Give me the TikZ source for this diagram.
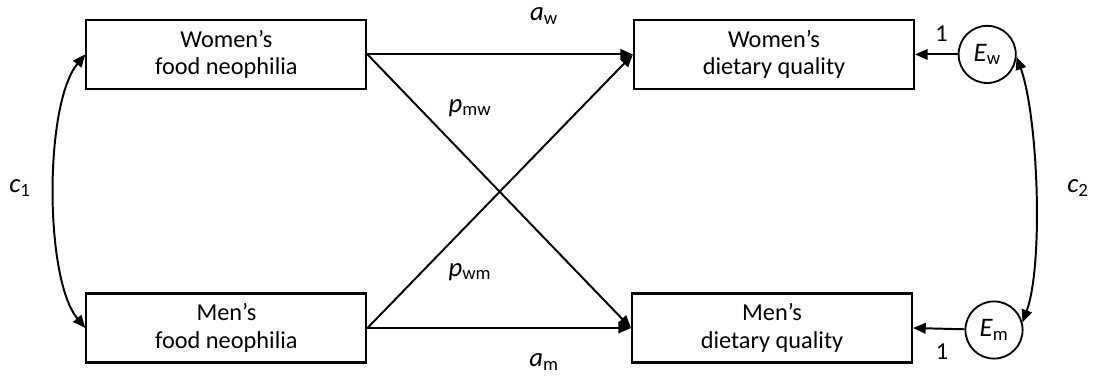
\documentclass[tikz,border=0pt]{standalone}
\usepackage{fontspec}
\setmainfont{Carlito}
\usepackage{tikz}
\usetikzlibrary{arrows.meta, positioning}

\tikzset{
    box/.style={draw, line width=1.5pt, minimum width=7cm, minimum height=1.725cm, inner sep=0pt, align=center},
    err/.style={draw, circle, line width=1.3pt, minimum size=1.43cm, inner sep=0pt, font=\fontsize{19}{22}\selectfont},
    lbl/.style={font=\fontsize{19}{22}\selectfont},
    path/.style={line width=1.4pt, -{Triangle[length=9pt, width=7.5pt]}},
    cov/.style={line width=1.4pt, {Triangle[length=9pt, width=7.5pt]}-{Triangle[length=9pt, width=7.5pt]}}
}

\begin{document}
\begin{tikzpicture}[font=\fontsize{17.3}{19.5}\selectfont]
                        \useasboundingbox (0, 0) rectangle (27.475, -9.4);
                        \node[box] (wfood) at (5.66, -1.36) {Women’s\\food neophilia};
                        \node[box] (mfood) at (5.66, -8.2) {Men’s\\food neophilia};
                        \node[box] (wdiet) at (19.35, -1.36) {Women’s\\dietary quality};
                        \node[box] (mdiet) at (19.3, -8.2) {Men’s\\dietary quality};
                        \node[err] (ew) at (24.68, -1.36) {\textit{E}\textsubscript{w}};
                        \node[err] (em) at (24.85, -8.25) {\textit{E}\textsubscript{m}};
                        \node[lbl] (aw) at (13.6, -0.4) {\textit{a}\textsubscript{w}};
                        \node[lbl] (am) at (13.6, -9.05) {\textit{a}\textsubscript{m}};
                        \node[lbl] (pmw) at (11.75, -2.7) {\textit{p}\textsubscript{mw}};
                        \node[lbl] (pwm) at (11.75, -6.8) {\textit{p}\textsubscript{wm}};
                        \node[lbl] (c1) at (0.5, -4.7) {\textit{c}\textsubscript{1}};
                        \node[lbl] (c2) at (26.95, -4.7) {\textit{c}\textsubscript{2}};
                        \node[] (lw) at (23.54, -0.83) {1};
                        \node[] (lm) at (23.55, -8.8) {1};
                        \draw
                        (wfood.east) edge[path] (wdiet.west)
                        (wfood.east) edge[path] (mdiet.west)
                        (mfood.east) edge[path] (wdiet.west)
                        (mfood.east) edge[path] (mdiet.west)
                        (ew) edge[path] (wdiet.east)
                        (em) edge[path] (mdiet.east)
                        (wfood.west) edge[cov, out=230, in=130, looseness=0.6] (mfood.west)
                        (ew.-5) edge[cov, out=-70, in=70, looseness=0.6] (em.15);
                    \end{tikzpicture}
\end{document}
